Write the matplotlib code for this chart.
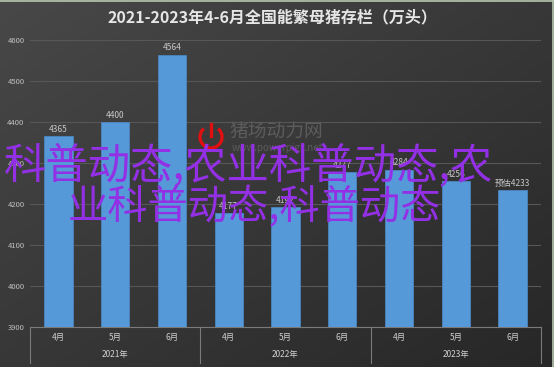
import numpy as np
import matplotlib
matplotlib.use("Agg")
import matplotlib.pyplot as plt
from matplotlib.patches import Arc
import matplotlib.transforms as mtransforms

plt.rcParams['font.family'] = ['Noto Sans CJK SC', 'DejaVu Sans']

# Data
years = ["2021年", "2022年", "2023年"]
months = ["4月", "5月", "6月"]
values = [4365, 4400, 4564, 4177, 4192, 4277, 4284, 4256, 4233]
bar_labels = ["4365", "4400", "4564", "4177", "4192", "4277", "4284", "4256", "预估4233"]
title = "2021-2023年4-6月全国能繁母猪存栏（万头）"
overlay_1 = "科普动态,农业科普动态,农"
overlay_2 = "业科普动态,科普动态"

W, H = 554, 367
fig = plt.figure(figsize=(W / 100, H / 100), dpi=100)

# dark gradient background
bg = fig.add_axes([0, 0, 1, 1], zorder=-10)
yy, xx = np.mgrid[0:1:200j, 0:1:300j]
grad = 0.5 * (1 - yy) + 0.5 * (1 - xx)
bg.imshow(grad, cmap=matplotlib.colors.LinearSegmentedColormap.from_list("g", ["#272727", "#484848"]),
          aspect="auto", extent=[0, 1, 0, 1], origin="upper")
bg.set_xlim(0, 1)
bg.set_ylim(0, 1)
bg.axis("off")
# thin light border
for sp in [[0, 1, 0.997, 0.997], [0.998, 0.998, 0, 1]]:
    bg.plot(sp[:2], sp[2:], color="#b8c8b0", lw=1.2)

ax = fig.add_axes([30 / W, 1 - 327 / H, 511 / W, 287 / H])
ax.set_facecolor("none")

x = np.arange(len(values))
ax.bar(x, values, width=0.5, color="#5599d8", edgecolor="#4a86c0", linewidth=0.6, zorder=3)
for xi, v, lab in zip(x, values, bar_labels):
    ax.text(xi, v + 6, lab, ha="center", va="bottom", fontsize=6, color="#c8c8c8", zorder=4)

ax.set_ylim(3900, 4600)
ax.set_xlim(-0.5, len(values) - 0.5)
ax.set_yticks(range(3900, 4601, 100))
ax.tick_params(axis="y", length=0, labelsize=5.5, labelcolor="#c0c0c0", pad=4)
ax.grid(axis="y", color="#575757", lw=0.8, zorder=0)
ax.set_xticks(x)
ax.set_xticklabels(months * len(years))
ax.tick_params(axis="x", length=0, labelsize=6, labelcolor="#d0d0d0", pad=4)
for s in ["top", "right", "left"]:
    ax.spines[s].set_visible(False)
ax.spines["bottom"].set_color("#7a7a7a")

# year groups under the month labels
trans = mtransforms.blended_transform_factory(ax.transData, ax.transAxes)
for i in range(len(years) + 1):
    ax.plot([i * 3 - 0.5] * 2, [0, -0.125], transform=trans, color="#7a7a7a", lw=0.8, clip_on=False)
for i, yr in enumerate(years):
    ax.text(i * 3 + 1, -0.095, yr, transform=trans, ha="center", va="center", fontsize=6, color="#d0d0d0")

fig.text(272 / W, 1 - 17 / H, title, ha="center", va="center", fontsize=11.5,
         fontweight="bold", color="#e6e6e6")

# watermark logo
fig.patches.append(Arc((211 / W, 1 - 137 / H), 22 / W, 22 / H, theta1=120, theta2=60,
                       transform=fig.transFigure, color="#e01010", lw=2.4))
fig.add_artist(plt.Line2D([211 / W, 211 / W], [1 - 124 / H, 1 - 136 / H], color="#e01010", lw=2.4))
fig.text(229 / W, 1 - 131 / H, "猪场动力网", ha="left", va="center", fontsize=13.5, color="#5c5c5c")
fig.text(232 / W, 1 - 148 / H, "www.powerpigs.net", ha="left", va="center", fontsize=7, color="#5c5c5c")

# purple overlay text
fig.text(4 / W, 1 - 167 / H, overlay_1, ha="left", va="center", fontsize=30.5,
         color="#9330e6", zorder=20)
fig.text(68 / W, 1 - 207 / H, overlay_2, ha="left", va="center", fontsize=29,
         color="#9330e6", zorder=20)

fig.savefig("out.png", dpi=100)
